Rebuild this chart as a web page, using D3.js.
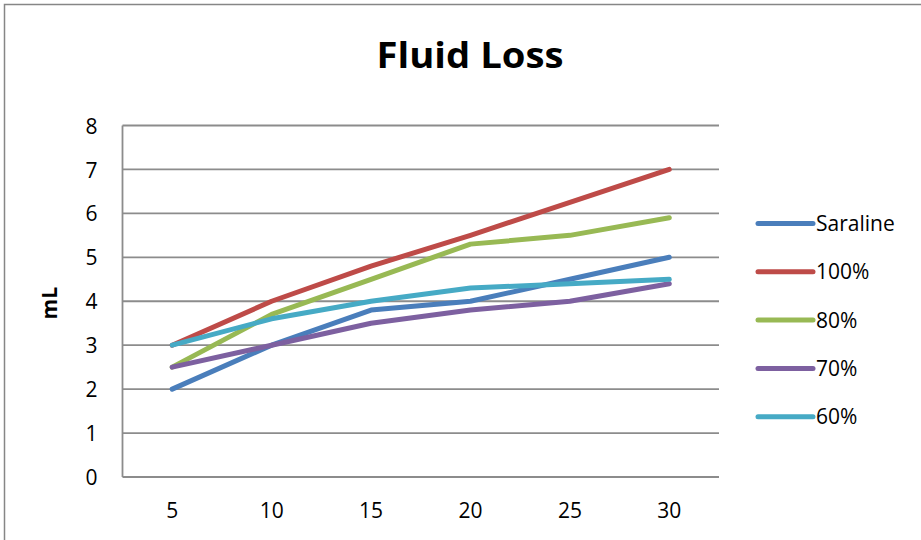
<!DOCTYPE html>
<html>
<head>
<meta charset="utf-8">
<script src="https://cdn.jsdelivr.net/npm/d3@7"></script>
<style>
  html, body { margin: 0; padding: 0; background: #fff; }
  svg { display: block; }
  text { font-family: "Open Sans", "Noto Sans", sans-serif; fill: #000; }
</style>
</head>
<body>
<svg id="chart" width="921" height="540"></svg>
<script>
// Time points (x categories) and fluid loss readings in mL
const categories = ["5", "10", "15", "20", "25", "30"];
const saraline = [2.0, 3.0, 3.8, 4.0, 4.5, 5.0];
const pct100   = [3.0, 4.0, 4.8, 5.5, 6.25, 7.0];
const pct80    = [2.5, 3.7, 4.5, 5.3, 5.5, 5.9];
const pct70    = [2.5, 3.0, 3.5, 3.8, 4.0, 4.4];
const pct60    = [3.0, 3.6, 4.0, 4.3, 4.4, 4.5];
const yTicks   = [0, 1, 2, 3, 4, 5, 6, 7, 8];

const seriesNames  = ["Saraline", "100%", "80%", "70%", "60%"];
const seriesValues = [saraline, pct100, pct80, pct70, pct60];
const seriesColors = ["#4a7ebb", "#be4b48", "#98b954", "#7d60a0", "#46aac5"];

const svg = d3.select("#chart");
const margin = { left: 122.5, right: 719, top: 125.5, bottom: 477 };

// outer chart frame
svg.append("rect")
  .attr("x", 4.5).attr("y", 4.5)
  .attr("width", 940).attr("height", 560)
  .attr("fill", "none").attr("stroke", "#868686").attr("stroke-width", 1.5);

const x = d3.scaleBand().domain(categories)
  .range([margin.left, margin.right]).paddingInner(0).paddingOuter(0);
const y = d3.scaleLinear().domain([0, 8]).range([margin.bottom, margin.top]);

// horizontal gridlines
svg.append("g").selectAll("line").data(yTicks).join("line")
  .attr("x1", margin.left).attr("x2", margin.right)
  .attr("y1", d => y(d)).attr("y2", d => y(d))
  .attr("stroke", "#8c8c8c").attr("stroke-width", 1.8);

// vertical axis line
svg.append("line")
  .attr("x1", margin.left).attr("x2", margin.left)
  .attr("y1", y(8)).attr("y2", y(0))
  .attr("stroke", "#8c8c8c").attr("stroke-width", 1.8);

// y tick labels
const yAxis = d3.axisLeft(y).tickValues(yTicks).tickSize(0).tickPadding(0).tickFormat(d3.format("d"));
const gy = svg.append("g").attr("transform", `translate(${margin.left - 25},0)`).call(yAxis);
gy.select(".domain").remove();
gy.selectAll("text")
  .attr("font-size", 21).attr("font-family", "'Open Sans', sans-serif")
  .attr("fill", "#000").attr("dy", "0.36em");

// x tick labels
const xAxis = d3.axisBottom(x).tickSize(0).tickPadding(0);
const gx = svg.append("g").attr("transform", `translate(0,${margin.bottom + 26})`).call(xAxis);
gx.select(".domain").remove();
gx.selectAll("text")
  .attr("font-size", 21).attr("font-family", "'Open Sans', sans-serif")
  .attr("fill", "#000").attr("dy", "0.71em");

// y axis title
svg.append("text")
  .attr("transform", `translate(57,${(margin.top + margin.bottom) / 2 + 2}) rotate(-90)`)
  .attr("text-anchor", "middle")
  .attr("font-size", 21).attr("font-weight", "bold")
  .text("mL");

// chart title
svg.append("text")
  .attr("x", 470).attr("y", 68)
  .attr("text-anchor", "middle")
  .attr("font-size", 36).attr("font-weight", "bold")
  .attr("textLength", 187).attr("lengthAdjust", "spacingAndGlyphs")
  .text("Fluid Loss");

// series lines
const line = d3.line()
  .x((d, i) => x(categories[i]) + x.bandwidth() / 2)
  .y(d => y(d));

svg.append("g").selectAll("path").data(seriesValues).join("path")
  .attr("d", d => line(d))
  .attr("fill", "none")
  .attr("stroke", (d, i) => seriesColors[i])
  .attr("stroke-width", 5)
  .attr("stroke-linecap", "round")
  .attr("stroke-linejoin", "round");

// legend
const legend = svg.append("g").selectAll("g").data(seriesNames).join("g")
  .attr("transform", (d, i) => `translate(758,${223.5 + i * 48.3})`);
legend.append("line")
  .attr("x1", 0).attr("x2", 55).attr("y1", 0).attr("y2", 0)
  .attr("stroke", (d, i) => seriesColors[i])
  .attr("stroke-width", 5).attr("stroke-linecap", "round");
legend.append("text")
  .attr("x", 58).attr("y", 0).attr("dy", "0.36em")
  .attr("font-size", 21)
  .text(d => d);
</script>
</body>
</html>
